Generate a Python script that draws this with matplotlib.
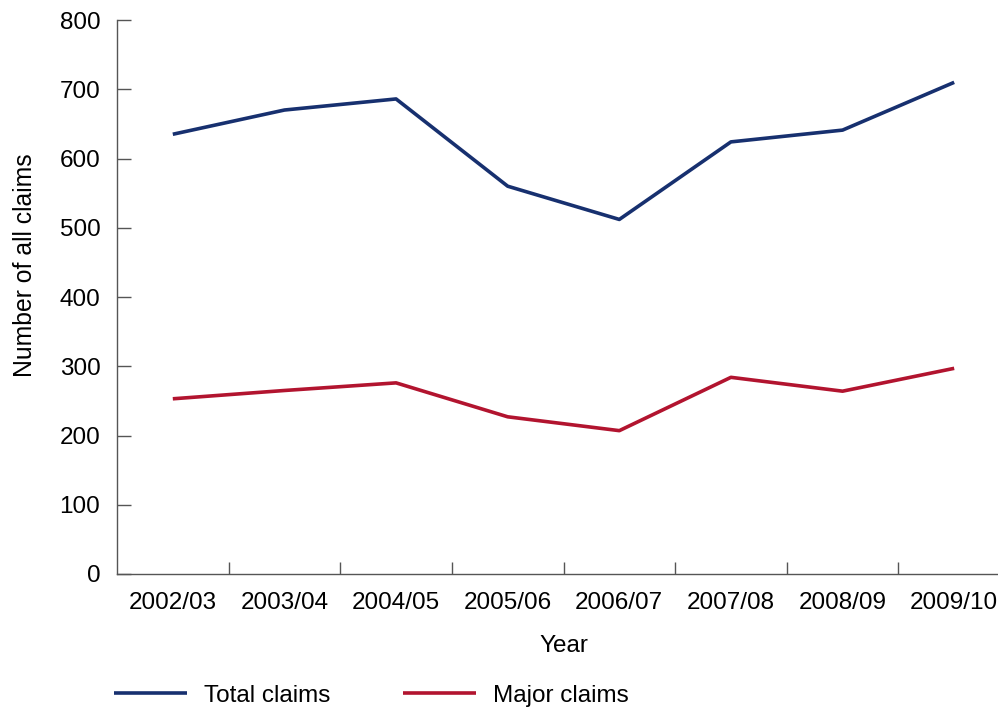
import numpy as np
import matplotlib.pyplot as plt

plt.rcParams['font.family'] = ['Liberation Sans', 'DejaVu Sans']

years = ['2002/03', '2003/04', '2004/05', '2005/06', '2006/07', '2007/08', '2008/09', '2009/10']
total_claims = [635, 670, 686, 560, 512, 624, 641, 710]
major_claims = [253, 265, 276, 227, 207, 284, 264, 297]

navy = '#17306f'
red = '#b2142f'
axis_grey = '#555555'
fs = 17.5

fig = plt.figure(figsize=(9.98, 7.07), dpi=100)
ax = fig.add_axes([117 / 998, 1 - 574 / 707, 893 / 998, 554 / 707])

x = np.arange(len(years))
ax.plot(x, total_claims, color=navy, lw=2.6, label='Total claims', solid_capstyle='butt')
ax.plot(x, major_claims, color=red, lw=2.6, label='Major claims', solid_capstyle='butt')

ax.set_xlim(-0.5, len(years) - 0.5)
ax.set_ylim(0, 800)
ax.set_yticks(range(0, 801, 100))

# category labels centred, ticks on the boundaries between years
ax.set_xticks(x)
ax.set_xticklabels(years)
ax.set_xticks(np.arange(0.5, len(years) - 1, 1), minor=True)
ax.tick_params(axis='x', which='major', length=0, pad=13, labelsize=fs)
ax.tick_params(axis='x', which='minor', direction='in', length=9, width=1, color=axis_grey)
ax.tick_params(axis='y', direction='in', length=10, width=1, color=axis_grey, pad=12, labelsize=fs)

for side in ['top', 'right']:
    ax.spines[side].set_visible(False)
for side in ['left', 'bottom']:
    ax.spines[side].set_color(axis_grey)
    ax.spines[side].set_linewidth(1)

ax.set_xlabel('Year', fontsize=fs, labelpad=15)
ax.set_ylabel('Number of all claims', fontsize=17.8, va='center')
ax.yaxis.set_label_coords(-92 / 893, (574 - 265) / 554)

fig.legend(loc='upper left', bbox_to_anchor=(109 / 998, 1 - 680 / 707), ncol=2,
           frameon=False, fontsize=fs, handlelength=3.0, handletextpad=0.7,
           columnspacing=3.0, borderaxespad=0, borderpad=0.2)

plt.savefig('out.png', dpi=100)
